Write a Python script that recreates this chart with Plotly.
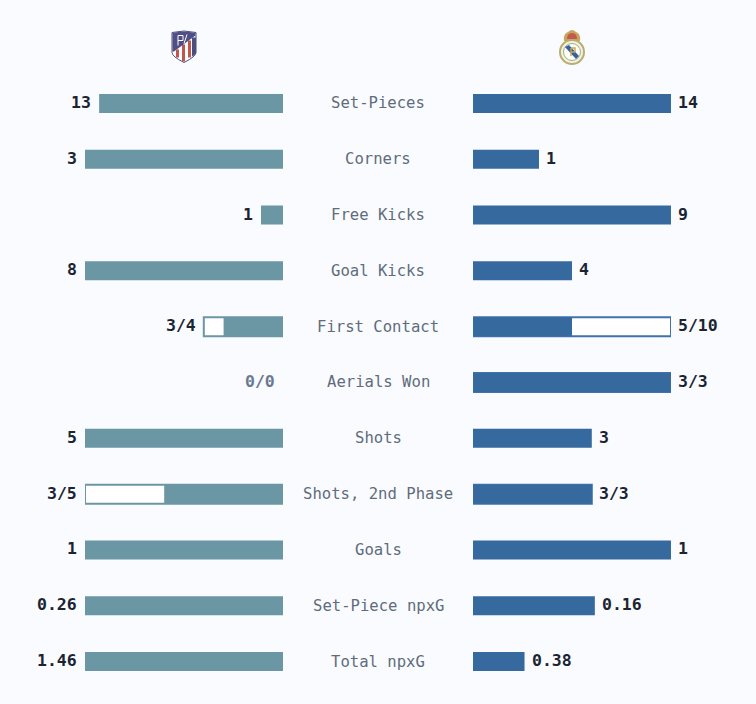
import base64
import plotly.graph_objects as go

categories = ["Set-Pieces", "Corners", "Free Kicks", "Goal Kicks", "First Contact", "Aerials Won",
              "Shots", "Shots, 2nd Phase", "Goals", "Set-Piece npxG", "Total npxG"]
atleti_values = [13, 3, 1, 8, 3, 0, 5, 3, 1, 0.26, 1.46]
atleti_totals = [None, None, None, None, 4, 0, None, 5, None, None, None]
madrid_values = [14, 1, 9, 4, 5, 3, 3, 3, 1, 0.16, 0.38]
madrid_totals = [None, None, None, None, 10, 3, None, 3, None, None, None]

BG = "#F9FBFF"
TEAL = "#6B96A3"
BLUE = "#366A9F"
DARK = "#1B2431"
GREY = "#5F6C7B"
MUTED = "#6B7A90"
MONO = "DejaVu Sans Mono"

ATLETI_CREST = """<svg xmlns='http://www.w3.org/2000/svg' viewBox='0 0 26 34'>
<path d='M1 3 Q13 0 25 3 V23 Q25 27 13 33 Q1 27 1 23 Z' fill='#fff' stroke='#4A4F80' stroke-width='1'/>
<path d='M11 15 h3 V32 h-3 Z M17 11 h3 V28 h-3 Z M5 20 h3 V28 h-3 Z' fill='#C4554A'/>
<path d='M21 8 h4 V23 Q25 25 21 27 Z' fill='#4A4F80'/>
<path d='M1.5 3.5 Q13 0.5 24.5 3.5 V6 L3 22 H1.5 Z' fill='#4F4F86'/>
<path d='M7 6 v10 M7 6 h5 v5 h-5 M16 5 l-3 9' stroke='#fff' stroke-width='1' fill='none'/>
</svg>"""

MADRID_CREST = """<svg xmlns='http://www.w3.org/2000/svg' viewBox='0 0 28 36'>
<path d='M6 12 Q5 5 10 3 Q14 -1 18 3 Q23 5 22 12 Z' fill='#C9A55C'/>
<path d='M9 10 Q9 4 14 4 Q19 4 19 10 Z' fill='#C4594F'/>
<circle cx='14' cy='23' r='12' fill='#F4F1DF' stroke='#B7AE73' stroke-width='2'/>
<circle cx='14' cy='23' r='8.5' fill='#FDFDF8' stroke='#8C9A6E' stroke-width='0.8'/>
<path d='M7 18 L11 16 L21 27 L18 30 Z' fill='#35629E'/>
<path d='M13 19 v8 M13 19 h4 v4 h-4' stroke='#C9A55C' stroke-width='1.4' fill='none'/>
</svg>"""


def svg_uri(svg):
    return "data:image/svg+xml;base64," + base64.b64encode(svg.encode()).decode()


def fmt(value, total):
    return f"{value}/{total}" if total is not None else str(value)


# each row is scaled to its own largest number
row_max = []
for a, at, m, mt in zip(atleti_values, atleti_totals, madrid_values, madrid_totals):
    row_max.append(max(a, at or 0, m, mt or 0))

atleti_fill = [v / r for v, r in zip(atleti_values, row_max)]
madrid_fill = [v / r for v, r in zip(madrid_values, row_max)]
atleti_box = [t / r if t else None for t, r in zip(atleti_totals, row_max)]
madrid_box = [t / r if t else None for t, r in zip(madrid_totals, row_max)]

fig = go.Figure()
bar_width = 0.34
fig.add_trace(go.Bar(y=categories, x=atleti_box, orientation="h", width=bar_width, xaxis="x", yaxis="y",
                     marker=dict(color="#FFFFFF", line=dict(color=TEAL, width=2))))
fig.add_trace(go.Bar(y=categories, x=atleti_fill, orientation="h", width=bar_width, xaxis="x", yaxis="y",
                     marker=dict(color=TEAL, line=dict(width=0))))
fig.add_trace(go.Bar(y=categories, x=madrid_box, orientation="h", width=bar_width, xaxis="x2", yaxis="y2",
                     marker=dict(color="#FFFFFF", line=dict(color="#3F74AA", width=2))))
fig.add_trace(go.Bar(y=categories, x=madrid_fill, orientation="h", width=bar_width, xaxis="x2", yaxis="y2",
                     marker=dict(color=BLUE, line=dict(width=0))))

annotations = []
for i, cat in enumerate(categories):
    annotations.append(dict(x=0.5, xref="paper", y=cat, yref="y", text=cat, showarrow=False, yshift=0,
                            font=dict(family=MONO, size=15.6, color=GREY)))
    left_end = max(atleti_fill[i], atleti_box[i] or 0)
    right_end = max(madrid_fill[i], madrid_box[i] or 0)
    annotations.append(dict(x=left_end, xref="x", y=cat, yref="y", text="<b>" + fmt(atleti_values[i], atleti_totals[i]) + "</b>",
                            showarrow=False, xanchor="right", xshift=-6, yshift=1,
                            font=dict(family=MONO, size=16.5, color=MUTED if left_end == 0 else DARK)))
    annotations.append(dict(x=right_end, xref="x2", y=cat, yref="y2", text="<b>" + fmt(madrid_values[i], madrid_totals[i]) + "</b>",
                            showarrow=False, xanchor="left", xshift=5, yshift=1,
                            font=dict(family=MONO, size=16.5, color=DARK)))

axis_off = dict(showgrid=False, zeroline=False, showticklabels=False, showline=False, ticks="")
fig.update_layout(
    width=756, height=704,
    margin=dict(l=0, r=0, t=0, b=0),
    paper_bgcolor=BG, plot_bgcolor=BG,
    barmode="overlay", showlegend=False,
    xaxis=dict(domain=[85 / 756, 283 / 756], range=[1, 0], **axis_off),
    xaxis2=dict(domain=[473 / 756, 671 / 756], range=[0, 1], anchor="y2", **axis_off),
    yaxis=dict(domain=[1 - 689.5 / 704, 1 - 75.5 / 704], autorange="reversed", **axis_off),
    yaxis2=dict(domain=[1 - 689.5 / 704, 1 - 75.5 / 704], autorange="reversed", anchor="x2", **axis_off),
    annotations=annotations,
    images=[
        dict(source=svg_uri(ATLETI_CREST), xref="paper", yref="paper", x=184 / 756, y=1 - 46.5 / 704,
             sizex=26 / 756, sizey=34 / 704, xanchor="center", yanchor="middle", layer="above"),
        dict(source=svg_uri(MADRID_CREST), xref="paper", yref="paper", x=572 / 756, y=1 - 47 / 704,
             sizex=28 / 756, sizey=36 / 704, xanchor="center", yanchor="middle", layer="above"),
    ],
)

# the page's default body margin would push the figure 8px in
fig.write_html("out.html", config=dict(displayModeBar=False),
               post_script="document.body.style.margin='0';document.documentElement.style.overflow='hidden';")
